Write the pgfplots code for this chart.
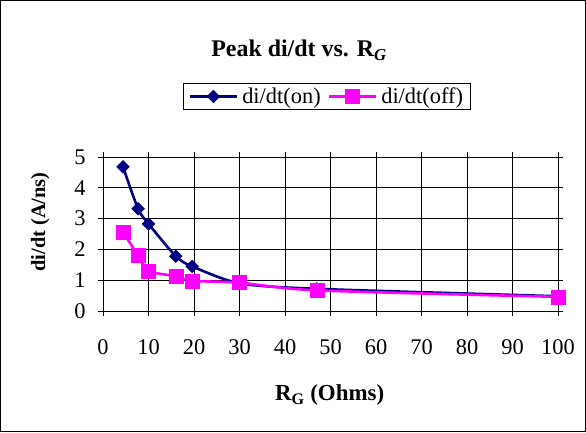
\documentclass[border=0pt]{standalone}
\usepackage{fontspec}
\setmainfont{Liberation Serif}
\usepackage{pgfplots}
\pgfplotsset{compat=1.18}
\definecolor{onc}{RGB}{0,0,128}
\definecolor{offc}{RGB}{255,0,255}
\begin{document}
\begin{tikzpicture}[x=1bp,y=1bp]
\draw[black,line width=0.8bp] (0.4,0.4) rectangle (585.6,431.6);
\begin{axis}[
  at={(103bp,121bp)}, anchor=south west,
  scale only axis, width=455bp, height=154bp,
  xmin=0, xmax=100, ymin=0, ymax=5,
  xtick={0,10,...,100}, ytick={0,1,...,5},
  grid=major, major grid style={black,line width=0.7bp},
  axis line style={black,line width=0.9bp},
  tick align=outside, major tick length=5bp,
  tick style={black,line width=0.7bp},
  /pgf/number format/assume math mode=true,
  ticklabel style={font=\fontsize{22.5}{25}\selectfont},
  xticklabel style={yshift=-20bp},
  yticklabel style={xshift=-9bp},
  xlabel={\textbf{R\textsubscript{G} (Ohms)}},
  ylabel={\textbf{di/dt (A/ns)}},
  xlabel style={font=\fontsize{23}{26}\selectfont, at={(axis description cs:0.498,-0.545)}, anchor=center},
  ylabel style={font=\fontsize{20.5}{24}\selectfont, at={(axis description cs:-0.138,0.578)}, anchor=center},
  legend columns=2,
  legend style={at={(0.492,1.393)}, anchor=center, draw=black, line width=0.8bp,
    font=\fontsize{22.5}{25}\selectfont, inner xsep=5bp, inner ysep=2bp,
    /tikz/every odd column/.append style={column sep=2bp},
    /tikz/every even column/.append style={column sep=5bp}},
  legend image code/.code={\draw[mark repeat=2,mark phase=2,#1] plot coordinates {(0bp,0bp) (23.5bp,0bp) (47bp,0bp)};},
  clip=false,
]
\addplot[onc, line width=2.6bp, smooth, tension=0.45, mark=square*, mark size=4.5bp, mark options={solid,fill=onc,rotate=45,line width=0.5bp}]
 coordinates {(4.4,4.68) (7.7,3.32) (10,2.83) (16,1.78) (19.6,1.45) (30,0.9) (47,0.72) (100,0.48)};
\addlegendentry{di/dt(on)}
\addplot[offc, line width=2.6bp, smooth, tension=0.45, mark=square*, mark size=7bp, mark options={solid,fill=offc,line width=0.5bp}]
 coordinates {(4.4,2.57) (7.7,1.8) (10,1.3) (16,1.13) (19.6,0.98) (30,0.92) (47,0.67) (100,0.46)};
\addlegendentry{di/dt(off)}
\end{axis}
\node[font=\fontsize{24}{28}\selectfont\bfseries] at (299bp,382bp) {Peak di/dt vs. R\textsubscript{\textit{G}}};
\end{tikzpicture}
\end{document}
